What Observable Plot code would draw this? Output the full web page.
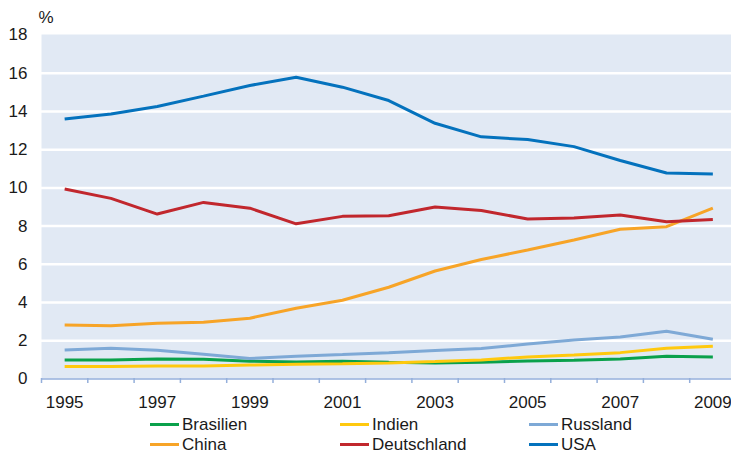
<!DOCTYPE html>
<html>
<head>
<meta charset="utf-8">
<script src="https://cdn.jsdelivr.net/npm/d3@7"></script>
<script src="https://cdn.jsdelivr.net/npm/@observablehq/plot@0.6"></script>
<style>
  html, body { margin: 0; padding: 0; background: #fff; }
  body { width: 731px; height: 454px; overflow: hidden; font-family: "Liberation Sans", Arial, sans-serif; }
  #chart svg { display: block; }
  #legend { position: relative; height: 40px; }
  .item { position: absolute; display: flex; align-items: center; font-size: 17px; line-height: 17px; height: 17px; color: #1a1a1a; }
  .sw { width: 29px; height: 3px; margin-right: 3px; }
</style>
</head>
<body>
<div id="chart"></div>
<div id="legend"></div>
<script>
const years = [1995,1996,1997,1998,1999,2000,2001,2002,2003,2004,2005,2006,2007,2008,2009];
const brasilien   = [1.00,1.00,1.05,1.03,0.93,0.89,0.93,0.88,0.84,0.87,0.94,0.98,1.05,1.19,1.15];
const indien      = [0.65,0.66,0.68,0.68,0.73,0.77,0.80,0.84,0.91,1.00,1.15,1.26,1.38,1.61,1.71];
const russland    = [1.52,1.61,1.50,1.29,1.07,1.19,1.28,1.38,1.49,1.59,1.83,2.04,2.20,2.50,2.08];
const china       = [2.83,2.78,2.92,2.97,3.18,3.70,4.12,4.80,5.65,6.25,6.75,7.27,7.84,7.97,8.94];
const deutschland = [9.94,9.45,8.63,9.24,8.94,8.12,8.51,8.54,9.00,8.82,8.37,8.42,8.58,8.23,8.35];
const usa         = [13.61,13.87,14.26,14.80,15.36,15.79,15.27,14.57,13.38,12.67,12.53,12.16,11.43,10.78,10.73];

const seriesNames = ["Brasilien","Indien","Russland","China","Deutschland","USA"];
const seriesValues = [brasilien, indien, russland, china, deutschland, usa];
const colors = ["#0aa14b","#ffc90e","#7ea9d6","#f7a427","#c1272d","#0472bd"];
const yTicks = [0,2,4,6,8,10,12,14,16,18];
const xLabels = [1995,1997,1999,2001,2003,2005,2007,2009];

const data = [];
seriesNames.forEach((s, i) => years.forEach((yr, j) => data.push({series: s, year: yr, value: seriesValues[i][j]})));

const edges = years.map(y => y - 0.5).concat([years[years.length-1] + 0.5]);
const gridVals = yTicks.slice(1, -1);

const chart = Plot.plot({
  width: 731,
  height: 414,
  marginLeft: 41,
  marginRight: 0,
  marginTop: 34,
  marginBottom: 36,
  style: {fontFamily: "'Liberation Sans', Arial, sans-serif", fontSize: "17px", color: "#1a1a1a", background: "#fff"},
  x: {domain: [edges[0], edges[edges.length-1]], range: [41, 735.5]},
  y: {domain: [0, 18], range: [378.5, 34.5]},
  color: {domain: seriesNames, range: colors},
  marks: [
    Plot.frame({fill: "#e1e9f4", stroke: null}),
    Plot.ruleY(gridVals, {stroke: "#fff", strokeWidth: 2.5}),
    Plot.axisY({ticks: yTicks, tickSize: 0, tickPadding: 14, fontSize: 17, label: null}),
    Plot.text(["%"], {frameAnchor: "top-left", dx: -3, dy: -24, fontSize: 17, textAnchor: "start"}),
    Plot.ruleY([0], {stroke: "#94afdb", strokeWidth: 1.5}),
    Plot.axisX({ticks: edges, tickFormat: () => "", tickSize: 5, stroke: "#94afdb", strokeWidth: 1.5, label: null}),
    Plot.axisX({ticks: xLabels, tickFormat: d => String(d), tickSize: 0, tickPadding: 17, fontSize: 17, label: null}),
    Plot.line(data, {x: "year", y: "value", z: "series", stroke: "series", strokeWidth: 3, strokeLinejoin: "miter", strokeLinecap: "butt"})
  ]
});
document.getElementById("chart").appendChild(chart);

const legend = document.getElementById("legend");
const colX = [150, 340, 529];
const rowY = [2, 22];
seriesNames.forEach((s, i) => {
  const el = document.createElement("div");
  el.className = "item";
  el.style.left = colX[i % 3] + "px";
  el.style.top = rowY[Math.floor(i / 3)] + "px";
  el.innerHTML = `<span class="sw" style="background:${colors[i]}"></span><span>${s}</span>`;
  legend.appendChild(el);
});
</script>
</body>
</html>
